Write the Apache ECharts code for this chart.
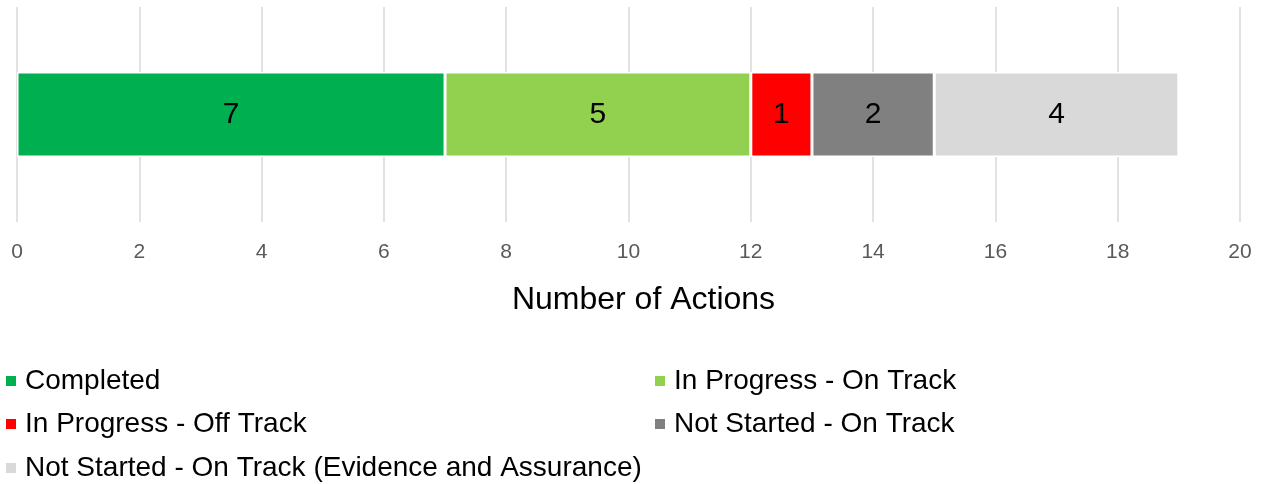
<!DOCTYPE html>
<html><head><meta charset="utf-8">
<script src="https://cdn.jsdelivr.net/npm/echarts@6/dist/echarts.min.js"></script>
<style>html,body{margin:0;padding:0;background:#fff}#c{width:1270px;height:484px}</style>
</head><body><div id="c"></div>
<script>
const categories = ['Actions'];
const seriesNames = ['Completed','In Progress - On Track','In Progress - Off Track','Not Started - On Track','Not Started - On Track (Evidence and Assurance)'];
const seriesValues = [[7],[5],[1],[2],[4]];
const seriesColors = ['#00B050','#92D050','#FF0000','#808080','#D9D9D9'];
const xTicks = [0,2,4,6,8,10,12,14,16,18,20];
const axisTitle = 'Number of Actions';

const font = "'Liberation Sans', Arial, sans-serif";
const legendPos = [
  {left: 1, top: 362}, {left: 650, top: 362},
  {left: 1, top: 405}, {left: 650, top: 405},
  {left: 1, top: 449}
];
const chart = echarts.init(document.getElementById('c'));
chart.setOption({
  animation: false,
  grid: {left: 17, right: 30, top: 7, height: 215},
  xAxis: {
    type: 'value', min: xTicks[0], max: xTicks[xTicks.length-1], interval: 2,
    axisLine: {show: false}, axisTick: {show: false},
    splitLine: {lineStyle: {color: '#D9D9D9', width: 1.5}},
    axisLabel: {color: '#595959', fontSize: 21, fontFamily: font, margin: 20},
    name: axisTitle, nameLocation: 'middle', nameGap: 62,
    nameTextStyle: {color: '#000', fontSize: 32, fontFamily: font, padding: [0, 0, 0, 30]}
  },
  yAxis: {type: 'category', data: categories, show: false},
  legend: seriesNames.map((n, i) => ({
    data: [n], left: legendPos[i].left, top: legendPos[i].top,
    icon: 'rect', itemWidth: 10, itemHeight: 10, itemGap: 0,
    itemStyle: {borderWidth: 0},
    textStyle: {color: '#000', fontSize: 28, fontFamily: font, padding: [0,0,0,4]}
  })),
  series: seriesNames.map((n, i) => ({
    name: n, type: 'bar', stack: 'total', data: seriesValues[i], barWidth: 85,
    itemStyle: {color: seriesColors[i], borderColor: '#fff', borderWidth: 1.5},
    label: {show: true, position: 'inside', color: '#000', fontSize: 30, fontFamily: font}
  }))
});
</script></body></html>
